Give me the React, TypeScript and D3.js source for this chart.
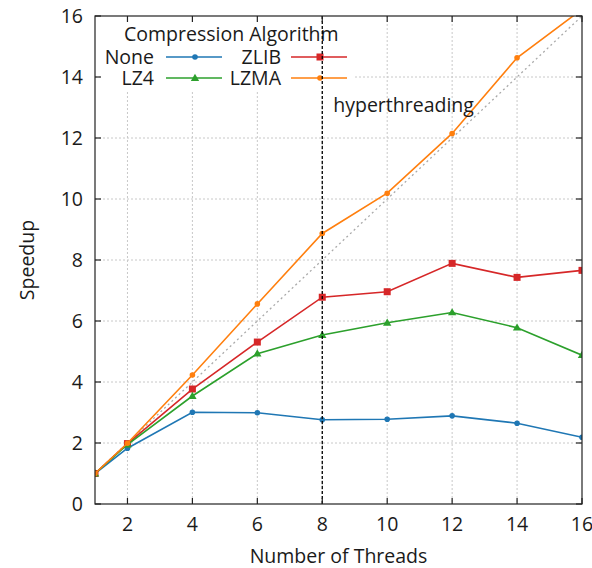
import React from 'react';
import * as d3 from 'd3';

const threads = [1, 2, 4, 6, 8, 10, 12, 14, 16];
const noneSpeedup = [1, 1.83, 3.01, 2.99, 2.76, 2.78, 2.89, 2.65, 2.19];
const zlibSpeedup = [1, 1.98, 3.77, 5.31, 6.78, 6.96, 7.89, 7.43, 7.66];
const lz4Speedup = [1, 1.95, 3.54, 4.93, 5.54, 5.94, 6.28, 5.78, 4.88];
const lzmaSpeedup = [1, 1.99, 4.23, 6.56, 8.87, 10.19, 12.15, 14.63, 16.22];
const xTicks = [2, 4, 6, 8, 10, 12, 14, 16];
const yTicks = [0, 2, 4, 6, 8, 10, 12, 14, 16];
const hyperthreadingAt = 8;

const width = 592;
const height = 568;
const margin = { left: 95, right: 10, top: 16, bottom: 64 };
const font = '"Open Sans", "Noto Sans", sans-serif';
const fs = 19.5;

type Series = { name: string; values: number[]; color: string; marker: 'circle' | 'square' | 'triangle' | 'dot' };

const series: Series[] = [
  { name: 'None', values: noneSpeedup, color: '#1f77b4', marker: 'circle' },
  { name: 'ZLIB', values: zlibSpeedup, color: '#d62728', marker: 'square' },
  { name: 'LZ4', values: lz4Speedup, color: '#2ca02c', marker: 'triangle' },
  { name: 'LZMA', values: lzmaSpeedup, color: '#ff7f0e', marker: 'dot' },
];

const Marker = ({ kind, x, y, color }: { kind: Series['marker']; x: number; y: number; color: string }) => {
  if (kind === 'square') return <rect x={x - 3.5} y={y - 3.5} width={7} height={7} fill={color} />;
  if (kind === 'triangle') {
    const tri = d3.symbol().type(d3.symbolTriangle).size(30)();
    return <path d={tri || ''} transform={`translate(${x},${y + 0.5})`} fill={color} />;
  }
  return <circle cx={x} cy={y} r={2.8} fill={color} />;
};

export default function App() {
  const x = d3.scaleLinear().domain([1, 16]).range([margin.left, width - margin.right]);
  const y = d3.scaleLinear().domain([0, 16]).range([height - margin.bottom, margin.top]);
  const [x0, x1] = x.range();
  const [yb, yt] = y.range();

  const line = (vals: number[]) =>
    d3.line<number>().x((_, i) => x(threads[i])).y((v) => y(v))(vals) || '';

  const legendItems = [
    { s: series[0], col: 0, row: 0 },
    { s: series[1], col: 1, row: 0 },
    { s: series[2], col: 0, row: 1 },
    { s: series[3], col: 1, row: 1 },
  ];
  const legendRowY = [57, 78];
  const legendTextEnd = [154, 281];
  const legendLine = [[166, 222], [291, 347]];

  return (
    <svg width={width} height={height} style={{ position: 'absolute', left: 0, top: 0, background: '#fff' }} fontFamily={font}>
      <defs>
        <clipPath id="plot">
          <rect x={x0} y={yt} width={x1 - x0} height={yb - yt} />
        </clipPath>
      </defs>

      {/* grid */}
      <g stroke="#c8c8c8" strokeWidth={1} strokeDasharray="2,2">
        {xTicks.filter((t) => t < 16).map((t) => (
          <line key={'gx' + t} x1={x(t)} x2={x(t)} y1={yt} y2={yb} />
        ))}
        {yTicks.filter((t) => t > 0 && t < 16).map((t) => (
          <line key={'gy' + t} x1={x0} x2={x1} y1={y(t)} y2={y(t)} />
        ))}
      </g>

      {/* legend background */}
      <rect x={100} y={yt + 1} width={254} height={73} fill="#fff" />

      {/* ideal speedup */}
      <line x1={x(1)} y1={y(1)} x2={x(16)} y2={y(16)} stroke="#aaaaaa" strokeWidth={1.3} strokeDasharray="2,3" />

      <g clipPath="url(#plot)">
        {series.map((s) => (
          <g key={s.name}>
            <path d={line(s.values)} fill="none" stroke={s.color} strokeWidth={1.6} />
            {s.values.map((v, i) => (
              <Marker key={i} kind={s.marker} x={x(threads[i])} y={y(v)} color={s.color} />
            ))}
          </g>
        ))}
      </g>

      {/* legend */}
      <text x={124} y={41} fontSize={fs} fill="#1a1a1a">Compression Algorithm</text>
      {legendItems.map(({ s, col, row }) => {
        const ly = legendRowY[row];
        const [la, lb] = legendLine[col];
        return (
          <g key={'lg' + s.name}>
            <text x={legendTextEnd[col]} y={ly} dy="0.34em" textAnchor="end" fontSize={fs} fill="#1a1a1a">{s.name}</text>
            <line x1={la} x2={lb} y1={ly} y2={ly} stroke={s.color} strokeWidth={1.6} />
            <Marker kind={s.marker} x={(la + lb) / 2 + 1} y={ly} color={s.color} />
          </g>
        );
      })}

      {/* hyperthreading marker */}
      <line x1={x(hyperthreadingAt)} x2={x(hyperthreadingAt)} y1={yt} y2={yb} stroke="#000" strokeWidth={1.3} strokeDasharray="3,2" />
      <text x={x(hyperthreadingAt) + 11} y={112} fontSize={fs} fill="#1a1a1a">hyperthreading</text>

      {/* frame and ticks */}
      <rect x={x0} y={yt} width={x1 - x0} height={yb - yt} fill="none" stroke="#222" strokeWidth={1.2} />
      <g stroke="#222" strokeWidth={1.2}>
        {xTicks.map((t) => (
          <g key={'tx' + t}>
            <line x1={x(t)} x2={x(t)} y1={yb} y2={yb - 6} />
            <line x1={x(t)} x2={x(t)} y1={yt} y2={yt + 6} />
          </g>
        ))}
        {yTicks.map((t) => (
          <g key={'ty' + t}>
            <line x1={x0} x2={x0 + 6} y1={y(t)} y2={y(t)} />
            <line x1={x1} x2={x1 - 6} y1={y(t)} y2={y(t)} />
          </g>
        ))}
      </g>
      <g fontSize={fs} fill="#1a1a1a">
        {xTicks.map((t) => (
          <text key={'lx' + t} x={x(t)} y={531} textAnchor="middle">{t}</text>
        ))}
        {yTicks.map((t) => (
          <text key={'ly' + t} x={x0 - 12} y={y(t)} dy="0.35em" textAnchor="end">{t}</text>
        ))}
      </g>

      <text x={(x0 + x1) / 2} y={563} textAnchor="middle" fontSize={fs} fill="#1a1a1a">Number of Threads</text>
      <text transform={`translate(34,${(yt + yb) / 2}) rotate(-90)`} textAnchor="middle" fontSize={fs} fill="#1a1a1a">Speedup</text>
    </svg>
  );
}
